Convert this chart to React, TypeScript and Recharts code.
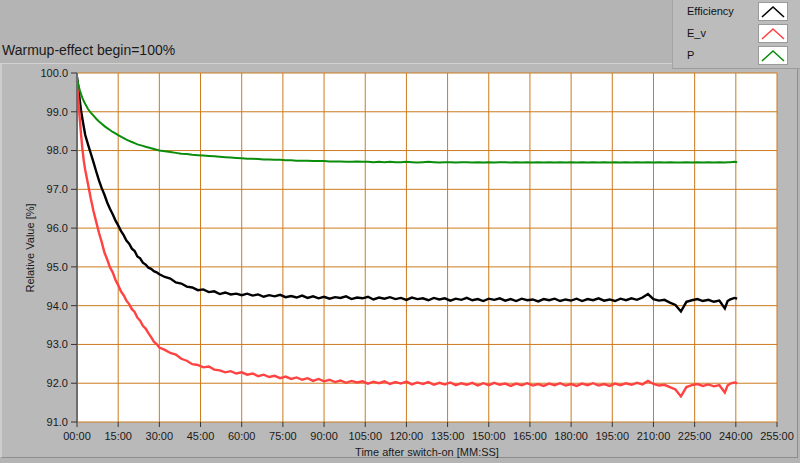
import { CartesianGrid, Label, Line, LineChart, XAxis, YAxis } from "recharts";

// time after switch-on, minutes
const minutes = [
  0, 0.5, 1, 1.5, 2, 2.5, 3, 4, 5, 6,
  7, 8, 9, 10, 11, 12, 13, 14, 15, 16,
  17, 18, 19, 20, 21, 22, 23, 24, 25, 26,
  27, 28, 29, 30,
  32, 34, 36, 38, 40, 42, 44, 46, 48, 50,
  52, 54, 56, 58, 60, 62, 64, 66, 68, 70,
  72, 74, 76, 78, 80, 82, 84, 86, 88, 90,
  92, 94, 96, 98, 100, 102, 104, 106, 108, 110,
  112, 114, 116, 118, 120, 122, 124, 126, 128, 130,
  132, 134, 136, 138, 140, 142, 144, 146, 148, 150,
  152, 154, 156, 158, 160, 162, 164, 166, 168, 170,
  172, 174, 176, 178, 180, 182, 184, 186, 188, 190,
  192, 194, 196, 198, 200, 202, 204, 206, 208, 210,
  212, 214, 216, 218, 220, 222, 224, 226, 228, 230,
  232, 234, 236, 237, 238, 239.5, 240.5,
];

const efficiency = [
  99.9, 99.62, 99.3, 99.02, 98.8, 98.6, 98.4, 98.16, 97.93, 97.7,
  97.46, 97.23, 97.03, 96.86, 96.66, 96.5, 96.36, 96.2, 96.07, 95.93,
  95.82, 95.68, 95.6, 95.47, 95.41, 95.27, 95.22, 95.11, 95.06, 94.98,
  94.95, 94.89, 94.86, 94.81,
  94.74, 94.7, 94.6, 94.57, 94.49, 94.47, 94.4, 94.42, 94.35, 94.37,
  94.3, 94.34, 94.29, 94.31, 94.27, 94.31, 94.26, 94.29, 94.23, 94.27,
  94.24, 94.28, 94.22, 94.25, 94.21, 94.26, 94.2, 94.24, 94.19, 94.23,
  94.18, 94.22, 94.2, 94.24, 94.17, 94.21, 94.19, 94.23, 94.16, 94.21,
  94.18, 94.22, 94.17, 94.2, 94.15, 94.21, 94.17, 94.19, 94.14, 94.2,
  94.16, 94.19, 94.13, 94.18, 94.15, 94.2, 94.14, 94.17, 94.12, 94.18,
  94.15, 94.19, 94.13, 94.17, 94.12, 94.18, 94.14, 94.16, 94.11, 94.17,
  94.14, 94.18, 94.12, 94.16, 94.13, 94.18, 94.12, 94.17, 94.14, 94.19,
  94.13, 94.16, 94.12, 94.18, 94.14, 94.19, 94.15, 94.21, 94.3, 94.17,
  94.13, 94.15, 94.08, 94.02, 93.85, 94.1, 94.14, 94.17, 94.12, 94.15,
  94.1, 94.13, 93.93, 94.12, 94.16, 94.2, 94.18,
];

const eV = [
  99.8, 99.3, 98.82, 98.4, 98.02, 97.72, 97.5, 97.14, 96.77, 96.44,
  96.16, 95.88, 95.64, 95.37, 95.19, 94.99, 94.86, 94.67, 94.53, 94.37,
  94.27, 94.13, 94.04, 93.91, 93.84, 93.69, 93.61, 93.48, 93.41, 93.29,
  93.19, 93.07, 93.01, 92.92,
  92.86, 92.78, 92.74, 92.63, 92.58, 92.49, 92.47, 92.41, 92.43, 92.35,
  92.33, 92.28, 92.31, 92.25, 92.28, 92.22, 92.25, 92.18, 92.22, 92.16,
  92.19, 92.13, 92.17, 92.11, 92.15, 92.09, 92.13, 92.06, 92.11, 92.05,
  92.09, 92.03, 92.07, 92.01, 92.06, 92.02, 92.05, 91.99, 92.04, 92.0,
  92.05, 91.98, 92.03, 91.99, 92.04, 91.97, 92.02, 91.98, 92.03, 91.96,
  92.01, 91.97, 92.02, 91.95, 92.0, 91.96, 92.01, 91.94, 92.0, 91.95,
  92.01, 91.96, 91.99, 91.93, 91.99, 91.95, 92.0, 91.94, 91.98, 91.93,
  91.99, 91.95, 92.0, 91.94, 91.98, 91.93, 91.99, 91.95, 92.0, 91.94,
  91.98, 91.93, 91.99, 91.95, 92.0, 91.96, 92.01, 91.97, 92.06, 91.98,
  91.94, 91.96, 91.9, 91.84, 91.66, 91.9, 91.95, 91.98, 91.93, 91.97,
  91.92, 91.95, 91.76, 91.94, 91.99, 92.02, 92.0,
];

const power = [
  99.85, 99.7, 99.56, 99.45, 99.35, 99.27, 99.2, 99.07, 98.98, 98.9,
  98.82, 98.75, 98.69, 98.63, 98.58, 98.53, 98.48, 98.44, 98.4, 98.36,
  98.32, 98.28, 98.25, 98.22, 98.19, 98.16, 98.14, 98.12, 98.1, 98.08,
  98.06, 98.04, 98.02, 98.0,
  97.98, 97.96, 97.94, 97.92, 97.91, 97.89, 97.88, 97.87, 97.86, 97.85,
  97.84, 97.83, 97.82, 97.81, 97.8, 97.79, 97.79, 97.78, 97.77, 97.77,
  97.76, 97.76, 97.75, 97.75, 97.74, 97.74, 97.74, 97.73, 97.73, 97.73,
  97.72, 97.72, 97.72, 97.71, 97.71, 97.72, 97.71, 97.71, 97.7, 97.71,
  97.7, 97.71, 97.7, 97.7, 97.71, 97.7, 97.69, 97.7, 97.71, 97.7,
  97.69, 97.7, 97.7, 97.69, 97.7, 97.7, 97.69, 97.7, 97.69, 97.7,
  97.69, 97.7, 97.7, 97.69, 97.7, 97.69, 97.7, 97.69, 97.7, 97.69,
  97.7, 97.69, 97.7, 97.69, 97.7, 97.69, 97.7, 97.69, 97.7, 97.69,
  97.7, 97.69, 97.7, 97.69, 97.7, 97.69, 97.7, 97.69, 97.7, 97.69,
  97.7, 97.69, 97.7, 97.69, 97.69, 97.7, 97.69, 97.7, 97.69, 97.7,
  97.69, 97.7, 97.69, 97.7, 97.7, 97.71, 97.7,
];

const xTicks = [0, 15, 30, 45, 60, 75, 90, 105, 120, 135, 150, 165, 180, 195, 210, 225, 240, 255];
const yTicks = [91, 92, 93, 94, 95, 96, 97, 98, 99, 100];

const series = [
  {key: "efficiency", name: "Efficiency", color: "#000000", width: 2.4},
  {key: "ev", name: "E_v", color: "#ff4242", width: 2.4},
  {key: "p", name: "P", color: "#0b8c0b", width: 2},
];

const data = minutes.map((t, i) => ({t, efficiency: efficiency[i], ev: eV[i], p: power[i]}));

const font = "'Liberation Sans', Arial, sans-serif";
const gridColor = "#cc7a1e";

function LegendBox() {
  return (
    <div style={{
      position: "absolute", left: 672, top: 0, width: 128, height: 68,
      background: "#bcbcbc", borderLeft: "1px solid #a4a4a4", borderBottom: "1px solid #9c9c9c",
      fontFamily: font, fontSize: 11, color: "#111",
    }}>
      {series.map((s, i) => (
        <div key={s.key}>
          <span style={{position: "absolute", left: 14, top: 5 + i * 22}}>{s.name}</span>
          <svg width={30} height={19} style={{position: "absolute", left: 85, top: 2 + i * 22}}>
            <rect x={0.5} y={0.5} width={29} height={18} fill="#fff" stroke="#9a9a9a"/>
            <polyline points="4,15 15,5 26,15" fill="none" stroke={s.color} strokeWidth={1.6}/>
          </svg>
        </div>
      ))}
    </div>
  );
}

export default function App() {
  return (
    <div style={{position: "absolute", left: 0, top: 0, width: 800, height: 463, background: "#b4b4b4", overflow: "hidden"}}>
      <div style={{
        position: "absolute", left: 0, top: 63, width: 795, height: 393,
        background: "#b9b9b9", borderTop: "1px solid #d2d2d2", borderLeft: "2px solid #cdcdcd",
        borderRight: "1px solid #8e8e8e", borderBottom: "1px solid #8e8e8e",
      }}/>
      <div style={{position: "absolute", left: 2, top: 42, fontFamily: font, fontSize: 14, color: "#1a1a1a"}}>
        Warmup-effect begin=100%
      </div>
      <LegendBox/>
      <div style={{position: "absolute", left: 0, top: 0}}>
        <LineChart width={800} height={463} data={data} margin={{top: 73, right: 23, left: 0, bottom: 0}}>
          <CartesianGrid stroke={gridColor} fill="#ffffff" strokeWidth={1}/>
          <XAxis
            dataKey="t"
            type="number"
            domain={[0, 255]}
            ticks={xTicks}
            interval={0}
            height={41}
            axisLine={false}
            tickSize={5}
            tickMargin={5}
            tickLine={{stroke: "#333"}}
            tick={{fontSize: 11, fill: "#1a1a1a", fontFamily: font}}
            tickFormatter={(v: number) => `${String(v).padStart(2, "0")}:00`}
          >
            <Label value="Time after switch-on [MM:SS]" position="insideBottom" offset={7}
                   style={{fontSize: 11, fill: "#1a1a1a", fontFamily: font}}/>
          </XAxis>
          <YAxis
            type="number"
            domain={[91, 100]}
            ticks={yTicks}
            interval={0}
            width={77}
            axisLine={{stroke: "#6e6e6e", strokeWidth: 2}}
            tickSize={6}
            tickMargin={3}
            tickLine={{stroke: "#333"}}
            tick={{fontSize: 11, fill: "#1a1a1a", fontFamily: font}}
            tickFormatter={(v: number) => v.toFixed(1)}
          >
            <Label content={() => (
              <text x={34} y={248} transform="rotate(-90 34 248)" textAnchor="middle"
                    style={{fontSize: 11, fill: "#1a1a1a", fontFamily: font}}>
                Relative Value [%]
              </text>
            )}/>
          </YAxis>
          {series.map((s) => (
            <Line key={s.key} dataKey={s.key} name={s.name} stroke={s.color} strokeWidth={s.width}
                  dot={false} type="linear" isAnimationActive={false}/>
          ))}
        </LineChart>
      </div>
    </div>
  );
}
